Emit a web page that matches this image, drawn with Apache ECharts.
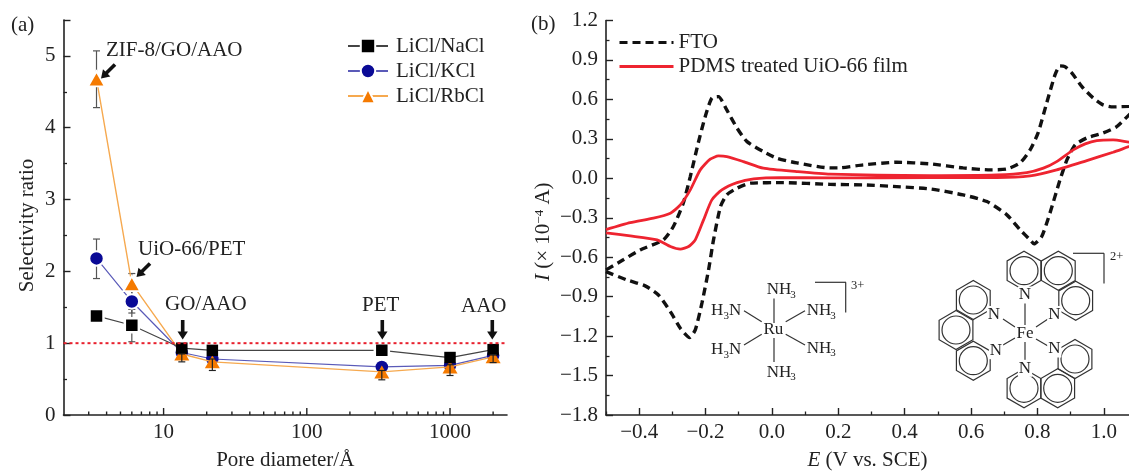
<!DOCTYPE html>
<html><head><meta charset="utf-8">
<style>html,body{margin:0;padding:0;background:#fff}#c{width:1129px;height:471px}</style>
<script src="https://cdn.jsdelivr.net/npm/echarts@6/dist/echarts.min.js"></script>
</head><body><div id="c"></div>
<script>
const poreDiameter = [3.4, 6, 13.4, 21.9, 334, 1000, 2000];
const naCl = [1.38, 1.25, 0.93, 0.90, 0.90, 0.80, 0.91];
const kCl = [2.18, 1.58, 0.87, 0.78, 0.67, 0.69, 0.83];
const rbCl = [4.68, 1.83, 0.85, 0.74, 0.60, 0.67, 0.81];
const naHalo = [1, 1, 0, 0, 1, 0, 0];
const kHalo = [1, 1, 0, 0, 0, 0, 0];
const rbHalo = [1, 1, 0, 0, 0, 0, 0];
const errBackX = [3.4, 3.4, 6, 6, 6];
const errBackLow = [4.28, 1.9, 1.02, 1.42, 1.65];
const errBackHigh = [5.07, 2.45, 1.47, 1.75, 1.97];
const errFrontX = [13.4, 21.9, 334, 1000, 2000];
const errFrontLow = [0.74, 0.62, 0.49, 0.55, 0.73];
const errFrontHigh = [0.85, 0.78, 0.62, 0.70, 0.84];
const refLineX = [2, 2500];
const refLineY = [1, 1];
const logMajor = [10, 100, 1000];
const logMinor = [3,4,5,6,7,8,9,20,30,40,50,60,70,80,90,200,300,400,500,600,700,800,900,2000];
const eMajor = [-0.4,-0.2,0,0.2,0.4,0.6,0.8,1.0];
const eMinor = [-0.5,-0.3,-0.1,0.1,0.3,0.5,0.7,0.9];

const ftoE = [-0.5,-0.437,-0.382,-0.342,-0.306,-0.276,-0.248,-0.231,-0.211,-0.191,-0.176,-0.155,-0.136,-0.105,-0.065,0.034,0.175,0.275,0.376,0.477,0.576,0.648,0.708,0.748,0.778,0.79,0.813,0.838,0.868,0.889,0.914,0.949,0.998,1.039,1.076,1.1,1.1,1.076,1.028,0.998,0.968,0.934,0.904,0.883,0.868,0.853,0.828,0.802,0.778,0.748,0.708,0.658,0.576,0.477,0.376,0.275,0.206,0.175,0.075,0.015,-0.026,-0.075,-0.105,-0.136,-0.161,-0.181,-0.201,-0.222,-0.246,-0.267,-0.297,-0.327,-0.397,-0.448,-0.5];
const ftoI = [-0.71,-0.773,-0.818,-0.887,-1.014,-1.14,-1.211,-1.153,-0.95,-0.697,-0.468,-0.215,-0.126,-0.075,-0.037,-0.033,-0.046,-0.05,-0.063,-0.081,-0.126,-0.177,-0.278,-0.392,-0.468,-0.499,-0.443,-0.263,-0.012,0.14,0.254,0.307,0.345,0.393,0.482,0.53,0.55,0.547,0.543,0.558,0.611,0.697,0.80,0.849,0.855,0.786,0.573,0.345,0.216,0.117,0.071,0.064,0.079,0.11,0.122,0.102,0.08,0.079,0.117,0.153,0.203,0.279,0.381,0.52,0.621,0.611,0.469,0.269,0.013,-0.187,-0.367,-0.468,-0.545,-0.62,-0.697];
const uioE = [-0.5,-0.427,-0.346,-0.306,-0.276,-0.251,-0.231,-0.206,-0.181,-0.151,-0.105,-0.055,0.025,0.175,0.477,0.678,0.778,0.858,0.949,1.028,1.076,1.1,1.1,1.076,1.028,0.979,0.944,0.908,0.858,0.818,0.768,0.678,0.477,0.175,0.075,-0.026,-0.086,-0.136,-0.161,-0.186,-0.216,-0.246,-0.276,-0.306,-0.357,-0.427,-0.5];
const uioI = [-0.415,-0.438,-0.468,-0.519,-0.539,-0.519,-0.468,-0.316,-0.164,-0.088,-0.033,-0.005,0.005,0.003,0.005,0.005,0.018,0.064,0.135,0.198,0.241,0.26,0.27,0.275,0.292,0.287,0.262,0.216,0.127,0.077,0.043,0.026,0.021,0.031,0.051,0.077,0.127,0.165,0.17,0.145,0.064,-0.088,-0.202,-0.265,-0.303,-0.337,-0.39];

const FONT = '"Liberation Serif","Times New Roman",serif';
const INK = '#222';
const zip = (a, b) => a.map((v, i) => [v, b[i]]);
const lab = { fontFamily: FONT, fontSize: 21, color: INK };
const axisLine = { lineStyle: { color: INK, width: 1.6 } };
const signed = v => (v < 0 ? '\u2212' : '') + Math.abs(v).toFixed(1);

function overlayTicks(grid, type, min, max, vals, len) {
  return { type, gridIndex: grid, position: 'bottom', min, max, axisLine: { show: false, onZero: false },
    axisLabel: { show: false }, splitLine: { show: false },
    axisTick: { show: true, inside: true, length: len, customValues: vals, lineStyle: { color: INK, width: 1.3 } } };
}
function marked(vals, halo, w, size) {
  const grow = s => Array.isArray(s) ? s.map(d => d + w) : s + w;
  return vals.map((v, i) => ({ value: [poreDiameter[i], v], symbolSize: halo[i] ? grow(size) : size,
    itemStyle: { borderWidth: halo[i] ? w : 0 } }));
}
function errSeries(xs, lows, highs, z, color) {
  return { type: 'custom', xAxisIndex: 0, yAxisIndex: 0, z, silent: true,
    data: xs.map((x, i) => [x, lows[i], highs[i]]), encode: { x: 0, y: [1, 2] },
    renderItem(p, api) {
      const a = api.coord([api.value(0), api.value(1)]), b = api.coord([api.value(0), api.value(2)]);
      const s = { stroke: color, lineWidth: 1.2 };
      const seg = (x1, y1, x2, y2) => ({ type: 'line', shape: { x1, y1, x2, y2 }, style: s });
      return { type: 'group', children: [seg(a[0], a[1], b[0], b[1]),
        seg(a[0] - 3.5, a[1], a[0] + 3.5, a[1]), seg(b[0] - 3.5, b[1], b[0] + 3.5, b[1])] };
    } };
}

/* annotations and chemical structures */
const gfx = [];
function txt(x, y, text, size, extra) {
  gfx.push({ type: 'text', x, y, z: 30, silent: true,
    style: Object.assign({ text, fontFamily: FONT, fontSize: size, fill: INK, verticalAlign: 'middle' }, extra || {}) });
}
function seg(x1, y1, x2, y2, w, c) {
  gfx.push({ type: 'line', z: 20, silent: true, shape: { x1, y1, x2, y2 }, style: { stroke: c || '#333', lineWidth: w || 1.2 } });
}
function arrow(x1, y1, x2, y2) {
  const L = Math.hypot(x2 - x1, y2 - y1), ux = (x2 - x1) / L, uy = (y2 - y1) / L, nx = -uy, ny = ux;
  const hl = 8, sw = 1.8, hw = 5.2, bx = x2 - ux * hl, by = y2 - uy * hl;
  gfx.push({ type: 'polygon', z: 25, silent: true, style: { fill: '#111' }, shape: { points: [
    [x1 + nx * sw, y1 + ny * sw], [bx + nx * sw, by + ny * sw], [bx + nx * hw, by + ny * hw], [x2, y2],
    [bx - nx * hw, by - ny * hw], [bx - nx * sw, by - ny * sw], [x1 - nx * sw, y1 - ny * sw]] } });
}
function ring(cx, cy) {
  const R = 19.5, pts = [];
  for (let i = 0; i < 6; i++) { const a = Math.PI / 6 + i * Math.PI / 3; pts.push([cx + R * Math.cos(a), cy + R * Math.sin(a)]); }
  gfx.push({ type: 'polygon', z: 15, silent: true, shape: { points: pts }, style: { fill: 'none', stroke: '#333', lineWidth: 1.2 } });
  gfx.push({ type: 'circle', z: 15, silent: true, shape: { cx, cy, r: 14 }, style: { fill: 'none', stroke: '#333', lineWidth: 1.2 } });
}
function N(x, y, t) {
  gfx.push({ type: 'text', x, y, z: 22, silent: true, style: { text: t || 'N', fontFamily: FONT, fontSize: 17, fill: '#222',
    align: 'center', verticalAlign: 'middle', backgroundColor: '#fff', padding: [0, 1] } });
}
function nh3(x, y) { txt(x, y, 'NH', 17); txt(x + 23.5, y + 5, '3', 11); }
function h3n(x, y) { txt(x, y, 'H', 17); txt(x + 12.5, y + 5, '3', 11); txt(x + 18, y, 'N', 17); }

txt(11, 25, '(a)', 21); txt(531, 24, '(b)', 21);
txt(106, 50, 'ZIF-8/GO/AAO', 21); txt(138, 249, 'UiO-66/PET', 21);
txt(165, 304, 'GO/AAO', 21); txt(362, 305, 'PET', 21); txt(461, 306, 'AAO', 21);
arrow(115, 64.5, 101, 78.5); arrow(150, 263.5, 136.5, 277);
arrow(182.7, 320, 182.7, 339.5); arrow(382.3, 320, 382.3, 339.5); arrow(492.3, 320, 492.3, 339.5);

/* Ru complex */
nh3(766.7, 290); nh3(766.7, 372.5); nh3(806.7, 311); nh3(806.7, 348.5); h3n(711, 310.7); h3n(711, 350);
txt(763.5, 329.5, 'Ru', 17);
seg(774, 298.5, 774, 323); seg(774, 338, 774, 362);
seg(744, 310.7, 761.7, 321.7); seg(805, 310.7, 785.7, 321.7); seg(744, 345, 761.7, 334.3); seg(805, 345, 785.7, 334.3);
seg(815, 282.3, 846, 282.3); seg(845.7, 282.3, 845.7, 312.5);
txt(851, 286, '3+', 12.5);

/* Fe complex */
[[1024, 270.7], [1058.3, 270.7], [1075.7, 300.7], [973.3, 300], [956, 330], [973.3, 360.7], [1024, 388.3], [1057.7, 388.3], [1075, 359]].forEach(r => ring(r[0], r[1]));
seg(1025, 301, 1025, 325); seg(1025, 340, 1025, 362);
seg(1003, 319, 1015, 327); seg(1036, 327, 1048, 319); seg(1003, 345, 1015, 338); seg(1036, 339, 1048, 346);
N(1025, 295); N(1054.3, 314.5); N(994, 314.5); N(996, 350.7); N(1054.3, 349); N(1025, 368.3);
N(1025, 333.5, 'Fe');
seg(1073, 253.3, 1104, 253.3); seg(1104, 253.3, 1104, 283.5);
txt(1110, 257, '2+', 12.5);

const option = {
  animation: false, backgroundColor: '#fff',
  textStyle: { fontFamily: FONT },
  grid: [{ left: 63.5, top: 20, width: 443.5, height: 395, outerBoundsMode: 'none' }, { left: 606, top: 20.5, width: 523, height: 394.5, outerBoundsMode: 'none' }],
  legend: [
    { data: ['LiCl/NaCl', 'LiCl/KCl', 'LiCl/RbCl'], left: 347, top: 35.5, padding: 0, orient: 'vertical', itemWidth: 40, itemHeight: 18,
      itemGap: 4, selectedMode: false, textStyle: { ...lab, padding: [0, 0, 0, 3] } },
    { data: ['FTO', 'PDMS treated UiO-66 film'], left: 618, top: 32, padding: 0, orient: 'vertical', itemWidth: 54, itemHeight: 12,
      itemGap: 3, selectedMode: false, itemStyle: { opacity: 0 }, lineStyle: { width: 3 }, textStyle: { ...lab, padding: [0, 0, 0, 0] } }
  ],
  xAxis: [
    { type: 'log', gridIndex: 0, min: 2, max: 2500, logBase: 10, axisLine, splitLine: { show: false }, minorTick: { show: false },
      name: 'Pore diameter/\u00c5', nameLocation: 'middle', nameGap: 35, nameMoveOverlap: false, nameTextStyle: lab,
      axisTick: { show: false },
      axisLabel: { ...lab, margin: 7, customValues: logMajor, formatter: v => String(Math.round(v)) } },
    { type: 'value', gridIndex: 1, min: -0.5, max: 1.076, axisLine: { ...axisLine, onZero: false }, splitLine: { show: false },
      name: '{i|E} (V vs. SCE)', nameLocation: 'middle', nameGap: 35, nameMoveOverlap: false,
      nameTextStyle: { ...lab, rich: { i: { ...lab, fontStyle: 'italic' } } },
      axisTick: { show: true, inside: true, length: 7, customValues: eMajor, lineStyle: { color: INK, width: 1.4 } },
      axisLabel: { ...lab, margin: 7, customValues: eMajor, formatter: signed } },
    overlayTicks(1, 'value', -0.5, 1.076, eMinor, 3.5)
  ],
  yAxis: [
    { type: 'value', gridIndex: 0, min: 0, max: 5.5, interval: 1, axisLine, splitLine: { show: false },
      name: 'Selectivity ratio', nameLocation: 'middle', nameGap: 26, nameMoveOverlap: false, nameRotate: 90,
      nameTextStyle: { ...lab, padding: [0, 16, 0, 0] },
      axisTick: { show: true, inside: true, length: 7, lineStyle: { color: INK, width: 1.4 } },
      minorTick: { show: true, splitNumber: 2, length: 3.5, lineStyle: { color: INK, width: 1.3 } },
      axisLabel: { ...lab, margin: 8, formatter: v => Number.isInteger(v) ? String(v) : '' } },
    { type: 'value', gridIndex: 1, min: -1.8, max: 1.2, interval: 0.3, axisLine: { ...axisLine, onZero: false }, splitLine: { show: false },
      name: '{i|I} (\u00d7 10{s|\u22124} A)', nameLocation: 'middle', nameGap: 52, nameMoveOverlap: false, nameRotate: 90,
      nameTextStyle: { ...lab, padding: [0, 28, 0, 0], rich: { i: { ...lab, fontStyle: 'italic' }, s: { ...lab, fontSize: 13, padding: [0, 0, 7, 0] } } },
      axisTick: { show: true, inside: true, length: 7, lineStyle: { color: INK, width: 1.4 } },
      minorTick: { show: true, splitNumber: 2, length: 3.5, lineStyle: { color: INK, width: 1.3 } },
      axisLabel: { ...lab, margin: 8, formatter: signed } }
  ],
  graphic: gfx,
  series: [
    errSeries(errBackX, errBackLow, errBackHigh, 2, '#555'),
    { name: 'LiCl/KCl', type: 'line', xAxisIndex: 0, yAxisIndex: 0, z: 3, symbol: 'circle', symbolSize: 13,
      data: marked(kCl, kHalo, 2, 12.5), lineStyle: { color: '#5a5ab8', width: 1.2 },
      itemStyle: { color: '#0a0a96', borderColor: '#fff', borderWidth: 2 } },
    { name: 'LiCl/RbCl', type: 'line', xAxisIndex: 0, yAxisIndex: 0, z: 4, symbol: 'triangle', symbolSize: [15, 13],
      data: marked(rbCl, rbHalo, 2, [15, 13]), lineStyle: { color: '#f6a94f', width: 1.4 },
      itemStyle: { color: '#f57a00', borderColor: '#fff', borderWidth: 2 } },
    { name: 'LiCl/NaCl', type: 'line', xAxisIndex: 0, yAxisIndex: 0, z: 5, symbol: 'rect', symbolSize: 12,
      data: marked(naCl, naHalo, 2.5, 11.5), lineStyle: { color: '#444', width: 1.2 },
      itemStyle: { color: '#000', borderColor: '#fff', borderWidth: 2 } },
    errSeries(errFrontX, errFrontLow, errFrontHigh, 6, '#222'),
    { type: 'line', xAxisIndex: 0, yAxisIndex: 0, z: 7, symbol: 'none', data: zip(refLineX, refLineY), silent: true,
      lineStyle: { color: '#e8212e', width: 2, type: [3, 3] } },
    { name: 'FTO', type: 'line', xAxisIndex: 1, yAxisIndex: 1, z: 3, symbol: 'none', smooth: 0.2, clip: true,
      data: zip(ftoE, ftoI), lineStyle: { color: '#111', width: 3.4, type: [8, 5] }, itemStyle: { color: '#111' } },
    { name: 'PDMS treated UiO-66 film', type: 'line', xAxisIndex: 1, yAxisIndex: 1, z: 4, symbol: 'none', smooth: 0.2, clip: true,
      data: zip(uioE, uioI), lineStyle: { color: '#ee2430', width: 2.8 }, itemStyle: { color: '#ee2430' } }
  ]
};
const chart = echarts.init(document.getElementById('c'), null, { renderer: 'canvas' });
chart.setOption(option);
/* log-axis ticks, placed through the axis's own scale */
const tickGfx = [];
[[logMajor, 7], [logMinor, 3.5]].forEach(([vals, len]) => vals.forEach(v => {
  const p = chart.convertToPixel({ xAxisIndex: 0, yAxisIndex: 0 }, [v, 0]);
  tickGfx.push({ type: 'line', z: 40, silent: true, shape: { x1: p[0], y1: p[1], x2: p[0], y2: p[1] - len },
    style: { stroke: INK, lineWidth: 1.4 } });
}));
chart.setOption({ graphic: gfx.concat(tickGfx) });
</script></body></html>
